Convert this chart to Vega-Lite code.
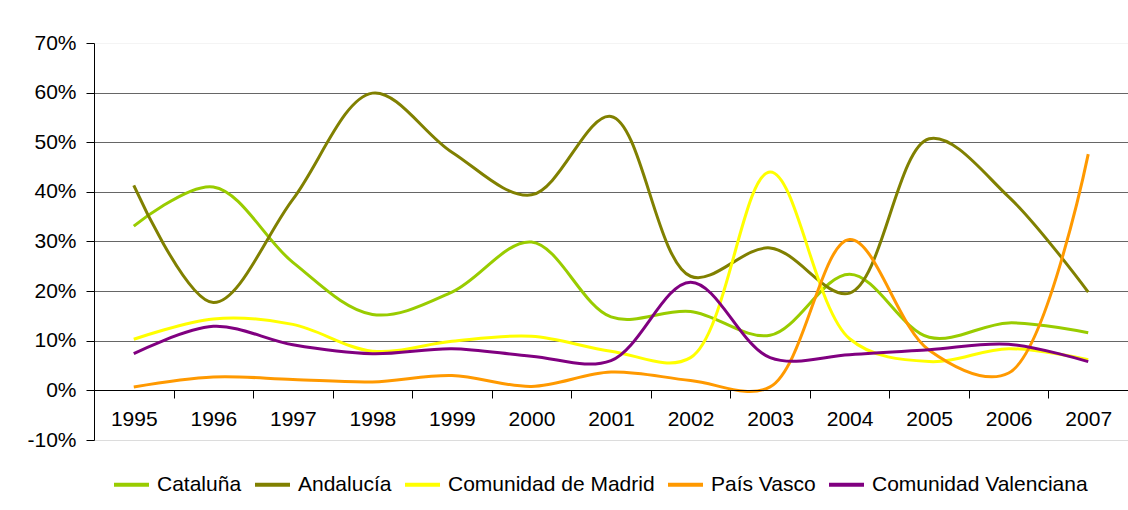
{
  "$schema": "https://vega.github.io/schema/vega-lite/v6.json",
  "width": 1034,
  "height": 397,
  "autosize": "none",
  "padding": {"left": 94, "top": 43, "right": 0, "bottom": 70},
  "background": "white",
  "config": {
    "font": "Liberation Sans",
    "view": {"stroke": null},
    "axis": {"labelFont": "Liberation Sans", "labelColor": "black", "labelFontSize": 21, "titleFontSize": 21}
  },
  "data": {
    "values": [
      {"year": "1995", "region": "Cataluña", "value": 0.331},
      {"year": "1996", "region": "Cataluña", "value": 0.410},
      {"year": "1997", "region": "Cataluña", "value": 0.258},
      {"year": "1998", "region": "Cataluña", "value": 0.153},
      {"year": "1999", "region": "Cataluña", "value": 0.198},
      {"year": "2000", "region": "Cataluña", "value": 0.299},
      {"year": "2001", "region": "Cataluña", "value": 0.148},
      {"year": "2002", "region": "Cataluña", "value": 0.159},
      {"year": "2003", "region": "Cataluña", "value": 0.111},
      {"year": "2004", "region": "Cataluña", "value": 0.234},
      {"year": "2005", "region": "Cataluña", "value": 0.107},
      {"year": "2006", "region": "Cataluña", "value": 0.136},
      {"year": "2007", "region": "Cataluña", "value": 0.116},
      {"year": "1995", "region": "Andalucía", "value": 0.413},
      {"year": "1996", "region": "Andalucía", "value": 0.177},
      {"year": "1997", "region": "Andalucía", "value": 0.385},
      {"year": "1998", "region": "Andalucía", "value": 0.599},
      {"year": "1999", "region": "Andalucía", "value": 0.480},
      {"year": "2000", "region": "Andalucía", "value": 0.394},
      {"year": "2001", "region": "Andalucía", "value": 0.552},
      {"year": "2002", "region": "Andalucía", "value": 0.230},
      {"year": "2003", "region": "Andalucía", "value": 0.287},
      {"year": "2004", "region": "Andalucía", "value": 0.196},
      {"year": "2005", "region": "Andalucía", "value": 0.507},
      {"year": "2006", "region": "Andalucía", "value": 0.390},
      {"year": "2007", "region": "Andalucía", "value": 0.198},
      {"year": "1995", "region": "Comunidad de Madrid", "value": 0.103},
      {"year": "1996", "region": "Comunidad de Madrid", "value": 0.144},
      {"year": "1997", "region": "Comunidad de Madrid", "value": 0.133},
      {"year": "1998", "region": "Comunidad de Madrid", "value": 0.079},
      {"year": "1999", "region": "Comunidad de Madrid", "value": 0.099},
      {"year": "2000", "region": "Comunidad de Madrid", "value": 0.109},
      {"year": "2001", "region": "Comunidad de Madrid", "value": 0.079},
      {"year": "2002", "region": "Comunidad de Madrid", "value": 0.066},
      {"year": "2003", "region": "Comunidad de Madrid", "value": 0.440},
      {"year": "2004", "region": "Comunidad de Madrid", "value": 0.104},
      {"year": "2005", "region": "Comunidad de Madrid", "value": 0.058},
      {"year": "2006", "region": "Comunidad de Madrid", "value": 0.084},
      {"year": "2007", "region": "Comunidad de Madrid", "value": 0.062},
      {"year": "1995", "region": "País Vasco", "value": 0.007},
      {"year": "1996", "region": "País Vasco", "value": 0.027},
      {"year": "1997", "region": "País Vasco", "value": 0.022},
      {"year": "1998", "region": "País Vasco", "value": 0.017},
      {"year": "1999", "region": "País Vasco", "value": 0.030},
      {"year": "2000", "region": "País Vasco", "value": 0.008},
      {"year": "2001", "region": "País Vasco", "value": 0.037},
      {"year": "2002", "region": "País Vasco", "value": 0.020},
      {"year": "2003", "region": "País Vasco", "value": 0.007},
      {"year": "2004", "region": "País Vasco", "value": 0.304},
      {"year": "2005", "region": "País Vasco", "value": 0.081},
      {"year": "2006", "region": "País Vasco", "value": 0.035},
      {"year": "2007", "region": "País Vasco", "value": 0.476},
      {"year": "1995", "region": "Comunidad Valenciana", "value": 0.074},
      {"year": "1996", "region": "Comunidad Valenciana", "value": 0.129},
      {"year": "1997", "region": "Comunidad Valenciana", "value": 0.092},
      {"year": "1998", "region": "Comunidad Valenciana", "value": 0.074},
      {"year": "1999", "region": "Comunidad Valenciana", "value": 0.084},
      {"year": "2000", "region": "Comunidad Valenciana", "value": 0.069},
      {"year": "2001", "region": "Comunidad Valenciana", "value": 0.060},
      {"year": "2002", "region": "Comunidad Valenciana", "value": 0.218},
      {"year": "2003", "region": "Comunidad Valenciana", "value": 0.066},
      {"year": "2004", "region": "Comunidad Valenciana", "value": 0.072},
      {"year": "2005", "region": "Comunidad Valenciana", "value": 0.082},
      {"year": "2006", "region": "Comunidad Valenciana", "value": 0.093},
      {"year": "2007", "region": "Comunidad Valenciana", "value": 0.058}
    ]
  },
  "mark": {"type": "line", "interpolate": "catmull-rom", "strokeWidth": 3},
  "encoding": {
    "x": {
      "field": "year",
      "type": "ordinal",
      "bandPosition": 0.5,
      "scale": {"type": "band", "paddingInner": 0, "paddingOuter": 0},
      "axis": {
        "title": null,
        "labelAngle": 0,
        "grid": false,
        "offset": -50,
        "tickBand": "extent",
        "domainColor": "black",
        "tickColor": "black",
        "tickSize": 8,
        "labelPadding": 10,
        "zindex": 1
      }
    },
    "y": {
      "field": "value",
      "type": "quantitative",
      "scale": {"domain": [-0.1, 0.7], "nice": false, "zero": false},
      "axis": {
        "title": null,
        "values": [-0.1, 0, 0.1, 0.2, 0.3, 0.4, 0.5, 0.6, 0.7],
        "labelExpr": "round(datum.value * 100) + '%'",
        "domainColor": "black",
        "tickColor": "black",
        "tickSize": 8,
        "labelPadding": 10,
        "grid": true,
        "gridColor": {"condition": [{"test": "datum.value > 0.65", "value": "#f4f4f4"}, {"test": "datum.value < -0.05", "value": "#dcdcdc"}], "value": "#666666"},
        "gridOpacity": 1
      }
    },
    "color": {
      "field": "region",
      "type": "nominal",
      "sort": ["Cataluña", "Andalucía", "Comunidad de Madrid", "País Vasco", "Comunidad Valenciana"],
      "scale": {
        "domain": ["Cataluña", "Andalucía", "Comunidad de Madrid", "País Vasco", "Comunidad Valenciana"],
        "range": ["#99CC00", "#808000", "#FFFF00", "#FF9900", "#800080"]
      },
      "legend": {
        "title": null,
        "orient": "none",
        "direction": "horizontal",
        "legendX": 18,
        "legendY": 422,
        "padding": 0,
        "symbolType": "stroke",
        "symbolSize": 1225,
        "symbolStrokeWidth": 4,
        "labelFontSize": 21,
        "labelFont": "Liberation Sans",
        "labelColor": "black",
        "labelOffset": 6,
        "columnPadding": 5,
        "labelLimit": 400
      }
    }
  }
}
